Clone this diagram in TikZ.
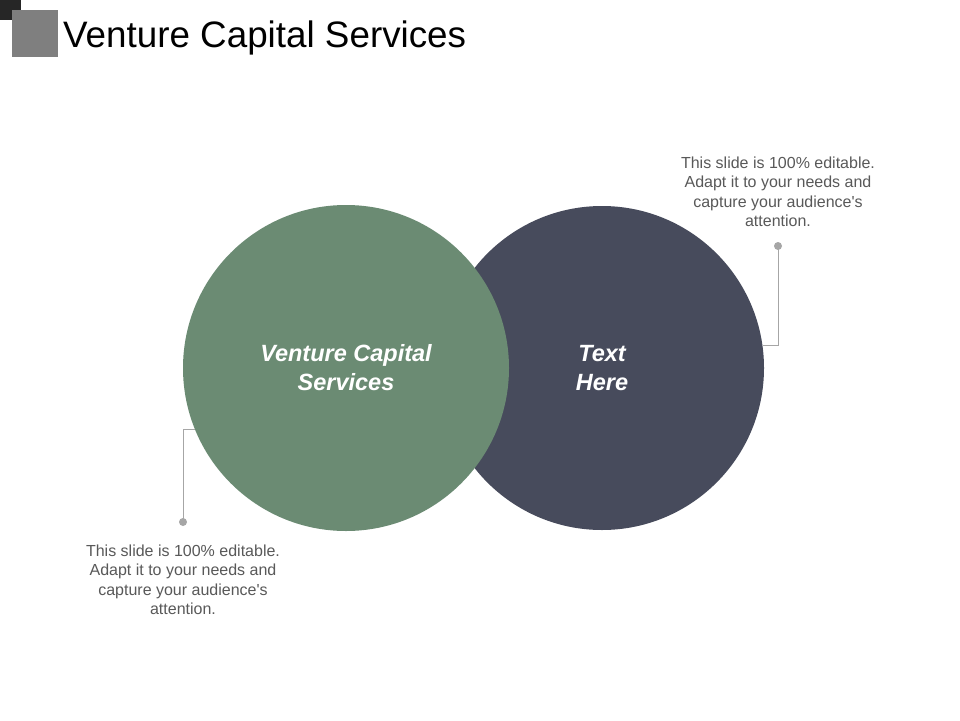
\documentclass[tikz,border=0pt]{standalone}
\usepackage{fontspec}
\setmainfont{Liberation Sans}
\definecolor{vgreen}{HTML}{6B8B73}
\definecolor{vdark}{HTML}{474B5C}
\definecolor{vline}{HTML}{A6A6A6}
\definecolor{vtext}{HTML}{595959}
\definecolor{vsq}{HTML}{7F7F7F}
\definecolor{vsqd}{HTML}{262626}
\begin{document}
\begin{tikzpicture}[x=1pt,y=-1pt,
  bigcircle/.style={circle,inner sep=0pt,minimum size=326pt,draw=none},
  circletext/.style={text=white,font=\fontsize{23.5}{29}\selectfont\bfseries\itshape,align=center},
  bodytext/.style={text=vtext,font=\fontsize{16}{19.5}\selectfont,align=center},
  dotnode/.style={circle,fill=vline,inner sep=0pt,minimum size=8pt},
  connector/.style={draw=vline,line width=1pt}]
\useasboundingbox (0,0) rectangle (960,720);
\fill[white] (0,0) rectangle (960,720);
% header squares
\fill[vsqd] (0,0) rectangle (21,20);
\fill[vsq] (12,10) rectangle (58,57);
\node[anchor=base west,inner sep=0pt,font=\fontsize{36.8}{40}\selectfont] (title) at (63,47) {Venture Capital Services};
% circles
\node[bigcircle,fill=vdark,minimum size=324pt] (dark) at (602,368) {};
\node[bigcircle,fill=vgreen] (green) at (346,368) {};
\node[circletext] (gt) at (346,368) {Venture Capital\\Services};
\node[circletext] (dt) at (602,368) {Text\\Here};
% right callout
\node[dotnode] (rdot) at (778,246) {};
\coordinate (redge) at (dark.8.9);
\draw[connector] (rdot.center) |- (redge);
\node[bodytext] (rtext) at (778,192) {This slide is 100\% editable.\\Adapt it to your needs and\\capture your audience\textquotesingle s\\attention.};
% left callout
\node[dotnode] (ldot) at (183,522) {};
\coordinate (ledge) at (green.202.4);
\draw[connector] (ldot.center) |- (ledge);
\node[bodytext] (ltext) at (183,580) {This slide is 100\% editable.\\Adapt it to your needs and\\capture your audience\textquotesingle s\\attention.};
\end{tikzpicture}
\end{document}
